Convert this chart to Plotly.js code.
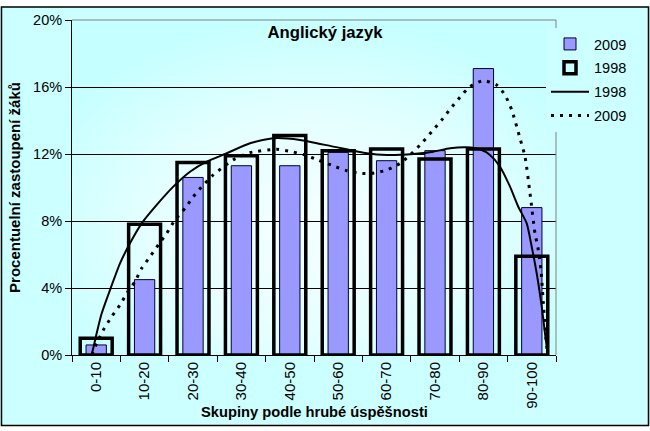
<!DOCTYPE html>
<html>
<head>
<meta charset="utf-8">
<script src="https://cdn.plot.ly/plotly-3.0.1.min.js"></script>
<style>html,body{margin:0;padding:0;background:#fff;}#chart{width:650px;height:431px;}</style>
</head>
<body>
<div id="chart"></div>
<script>
// Categories
const categories = ["0-10","10-20","20-30","30-40","40-50","50-60","60-70","70-80","80-90","90-100"];
// Bar values (%)
const bars2009 = [0.6, 4.5, 10.6, 11.3, 11.3, 12.1, 11.6, 12.2, 17.1, 8.8];
const bars1998 = [1.0, 7.8, 11.5, 11.9, 13.1, 12.2, 12.3, 11.7, 12.3, 5.9];
// Trend curve 1998 (solid): x in category index units
const trend1998X = [-0.093,0.010,0.114,0.285,0.492,0.698,0.940,1.250,1.593,1.938,2.283,2.661,3.178,3.659,4.211,4.899,5.589,6.002,6.552,6.965,7.310,7.655,7.930,8.136,8.343,8.550,8.721,8.895,8.998,9.101,9.205,9.308,9.341];
const trend1998Y = [0,1.30,2.49,3.88,5.47,6.67,7.86,8.96,10.05,10.94,11.54,12.0,12.64,12.94,12.84,12.44,12.04,11.94,12.0,12.14,12.34,12.40,12.28,11.94,11.24,10.05,8.85,7.86,6.47,4.88,2.89,0.50,0];
// Trend curve 2009 (dotted)
const trend2009X = [-0.093,0.010,0.147,0.320,0.492,0.630,0.802,0.940,1.112,1.283,1.457,1.628,1.835,2.006,2.213,2.419,2.826,3.178,3.729,4.039,4.314,4.583,4.893,5.176,5.450,5.719,6.002,6.277,6.483,6.725,6.932,7.138,7.310,7.517,7.723,7.998,8.275,8.446,8.585,8.756,8.860,8.963,9.066,9.135,9.190,9.238,9.273,9.308,9.324];
const trend2009Y = [0,0.70,1.49,2.29,2.99,3.68,4.38,5.18,5.87,6.57,7.27,8.06,8.76,9.45,10.15,10.75,11.64,12.08,12.28,12.14,11.94,11.64,11.30,11.00,10.85,10.85,11.04,11.44,11.94,12.64,13.33,14.03,14.67,15.39,16.02,16.38,16.12,15.52,14.63,12.94,11.84,9.65,7.27,6.27,5.07,3.09,1.69,0.50,0];
// Texts
const chartTitle = "Anglický jazyk";
const xTitle = "Skupiny podle hrubé úspěšnosti";
const yTitle = "Procentuelní zastoupení žáků";
const seriesNames = ["2009","1998","1998","2009"];

const FONT = "Arial, 'Liberation Sans', sans-serif";

const traces = [
  {type:'bar', x:categories, y:bars2009, name:seriesNames[0], width:0.42, legendgroup:'a',
   marker:{color:'#9999ff', line:{color:'#000033', width:1}}, hoverinfo:'skip'},
  {type:'bar', x:categories, y:bars1998, name:seriesNames[1], width:0.66, legendgroup:'b',
   marker:{color:'rgba(255,255,255,0)', line:{color:'#000000', width:3.5}}, hoverinfo:'skip'},
  {type:'scatter', mode:'lines', x:trend1998X, y:trend1998Y, xaxis:'x2', name:seriesNames[2], legendgroup:'c',
   line:{color:'#000', width:2, shape:'spline', smoothing:0.6}, hoverinfo:'skip'},
  {type:'scatter', mode:'lines', x:trend2009X, y:trend2009Y, xaxis:'x2', name:seriesNames[3], legendgroup:'d',
   line:{color:'#000', width:3, dash:'3px,6px', shape:'spline', smoothing:0.6}, hoverinfo:'skip'}
];

const L=72, R=556, T=20, B=355, W=650, H=431;
const px = v => (v - L)/(R - L);
const py = v => (B - v)/(B - T);

const bgSvg = "<svg xmlns='http://www.w3.org/2000/svg' width='484' height='335' preserveAspectRatio='none'>" +
  "<defs><radialGradient id='g' cx='50%' cy='62%' r='62%'>" +
  "<stop offset='0' stop-color='#f4ffff'/><stop offset='0.55' stop-color='#e4ffff'/><stop offset='1' stop-color='#c6ffff'/>" +
  "</radialGradient></defs><rect width='484' height='335' fill='url(#g)'/></svg>";
const bgSource = "data:image/svg+xml;charset=utf-8," + encodeURIComponent(bgSvg);

const layout = {
  width:W, height:H,
  margin:{l:L, r:W-R, t:T, b:H-B, pad:0},
  paper_bgcolor:'#ccffff',
  plot_bgcolor:'#dcffff',
  barmode:'overlay',
  showlegend:true,
  font:{family:FONT, size:14, color:'#000'},
  title:{text:'<b>'+chartTitle+'</b>', font:{family:FONT, size:16.7, color:'#000'},
         x:px(325), xref:'paper', xanchor:'center', y:1-32/H, yref:'container', yanchor:'middle'},
  xaxis:{type:'category', categoryorder:'array', categoryarray:categories,
         range:[-0.5,9.5], tickson:'boundaries', ticks:'outside', ticklen:6, tickcolor:'#000',
         tickangle:-90, showgrid:false, showline:true, linecolor:'#000', linewidth:1,
         tickfont:{family:FONT, size:15, color:'#000'}, fixedrange:true},
  xaxis2:{overlaying:'x', range:[-0.5,9.5], visible:false, fixedrange:true},
  yaxis:{range:[0,20], dtick:4, tick0:0, ticksuffix:'%', ticks:'outside', ticklen:6, tickcolor:'#000',
         showgrid:true, gridcolor:'#000', gridwidth:1, zeroline:false,
         showline:true, linecolor:'#000', linewidth:1,
         tickfont:{family:FONT, size:14.5, color:'#000'}, fixedrange:true,
         title:{text:'<b>'+yTitle+'</b>', font:{family:FONT, size:15, color:'#000'}, standoff:8}},
  legend:{x:px(546), xanchor:'left', y:py(28), yanchor:'top', bgcolor:'#ccffff',
          font:{family:FONT, size:14.5, color:'#000'}, itemwidth:38, tracegroupgap:2},
  images:[
    {source:bgSource, xref:'paper', yref:'paper', x:0, y:1, sizex:1, sizey:1,
     xanchor:'left', yanchor:'top', sizing:'stretch', layer:'below'}
  ],
  annotations:[
    {text:'<b>'+xTitle+'</b>', xref:'paper', yref:'paper', x:px(314), y:py(412),
     xanchor:'center', yanchor:'middle', showarrow:false, font:{family:FONT, size:14.7, color:'#000'}}
  ],
  shapes:[
    {type:'line', xref:'paper', yref:'paper', x0:0, x1:1, y0:1, y1:1, line:{color:'#808080', width:1}, layer:'above'},
    {type:'line', xref:'paper', yref:'paper', x0:1, x1:1, y0:0, y1:1, line:{color:'#808080', width:1}, layer:'above'},
    {type:'rect', xref:'paper', yref:'paper', x0:px(-5), x1:px(660), y0:py(6.5), y1:py(-5), fillcolor:'#fff', line:{width:0}, layer:'above'},
    {type:'rect', xref:'paper', yref:'paper', x0:px(-5), x1:px(660), y0:py(440), y1:py(426), fillcolor:'#fff', line:{width:0}, layer:'above'},
    {type:'rect', xref:'paper', yref:'paper', x0:px(1.5), x1:px(648.5), y0:py(425.5), y1:py(7), fillcolor:'rgba(0,0,0,0)', line:{color:'#000', width:1.5}, layer:'above'}
  ]
};

Plotly.newPlot('chart', traces, layout, {displayModeBar:false, staticPlot:true});
</script>
</body>
</html>
